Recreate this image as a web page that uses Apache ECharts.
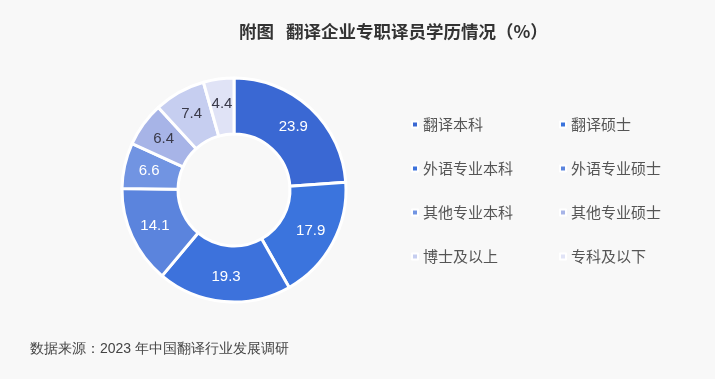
<!DOCTYPE html>
<html>
<head>
<meta charset="utf-8">
<script src="https://cdn.jsdelivr.net/npm/echarts@6/dist/echarts.min.js"></script>
<style>
html,body{margin:0;padding:0;background:#f8f8f8;}
#main{width:715px;height:379px;}
</style>
</head>
<body>
<div id="main"></div>
<script>
const categories = ['翻译本科','翻译硕士','外语专业本科','外语专业硕士','其他专业本科','其他专业硕士','博士及以上','专科及以下'];
const values = [23.9, 17.9, 19.3, 14.1, 6.6, 6.4, 7.4, 4.4];
const colors = ['#3a68d3','#3b74dd','#3d72dc','#5b84dd','#7194e2','#a7b4e7','#c6cef0','#e0e3f6'];
const labelColors = ['#ffffff','#ffffff','#ffffff','#ffffff','#ffffff','#3a3a4a','#3a3a4a','#3a3a4a'];

const chart = echarts.init(document.getElementById('main'));
const font = '"Noto Sans CJK SC", "Noto Sans", sans-serif';
const legendStyle = {fontSize: 15, color: '#555', fontFamily: font};
chart.setOption({
  backgroundColor: '#f8f8f8',
  color: colors,
  title: {
    text: '附图   翻译企业专职译员学历情况（%）',
    left: 234, top: 18,
    textStyle: {fontSize: 17.5, fontWeight: 'bold', color: '#333', fontFamily: font}
  },
  graphic: [{
    type: 'text', left: 30, top: 342,
    style: {text: '数据来源：2023 年中国翻译行业发展调研', fontSize: 14, fill: '#444', font: '14px "Noto Sans CJK SC", sans-serif'}
  }],
  legend: [
    {orient: 'vertical', left: 406, top: 112, itemWidth: 6, itemHeight: 6, itemGap: 29, icon: 'rect',
     data: [categories[0], categories[2], categories[4], categories[6]], textStyle: legendStyle},
    {orient: 'vertical', left: 554, top: 112, itemWidth: 6, itemHeight: 6, itemGap: 29, icon: 'rect',
     data: [categories[1], categories[3], categories[5], categories[7]], textStyle: legendStyle}
  ],
  series: [{
    type: 'pie',
    center: [234, 190],
    radius: [56, 112],
    startAngle: 90,
    clockwise: true,
    avoidLabelOverlap: false,
    itemStyle: {borderColor: '#ffffff', borderWidth: 3},
    label: {show: true, position: 'inside', fontSize: 15, fontFamily: '"Liberation Sans", Arial, sans-serif', formatter: p => p.value.toFixed(1)},
    labelLine: {show: false},
    emphasis: {disabled: true},
    data: categories.map((c, i) => ({name: c, value: values[i], label: {color: labelColors[i]}}))
  }]
});
</script>
</body>
</html>
